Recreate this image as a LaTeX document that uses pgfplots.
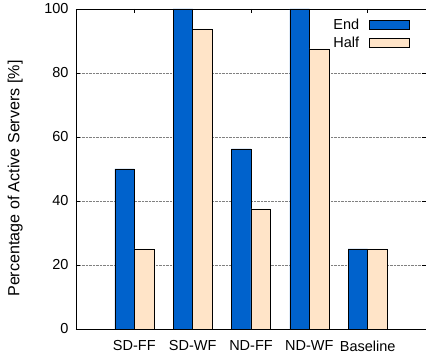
\documentclass[border=0pt]{standalone}
\usepackage{pgfplots}
\pgfplotsset{compat=1.18}
\usepackage{fontspec}
\setmainfont{Liberation Sans}
\definecolor{endblue}{RGB}{0,98,204}
\definecolor{halfpeach}{RGB}{255,228,200}
\begin{document}
\begin{tikzpicture}
\begin{axis}[
  scale only axis,
  width=350pt, height=320pt,
  xmin=0, xmax=6, ymin=0, ymax=100,
  ybar=0pt, bar width=19.5pt,
  xtick={1,2,3,4,5},
  xticklabels={SD-FF,SD-WF,ND-FF,ND-WF,Baseline},
  ytick={0,20,40,60,80,100},
  tick align=inside,
  major tick length=4pt,
  ymajorgrids,
  grid style={densely dotted, gray, line width=0.6pt},
  axis line style={line width=0.9pt},
  tick style={black, line width=0.6pt},
  /pgf/number format/assume math mode=true,
  tick label style={font=\fontsize{14.5}{16}\selectfont},
  yticklabel style={xshift=-4pt},
  xticklabel style={yshift=-8pt},
  ylabel={Percentage of Active Servers [\%]},
  every axis y label/.style={at={(axis description cs:-0.174,0.47)}, rotate=90, anchor=center,
    font=\fontsize{16.1}{18}\selectfont},
  legend style={at={(rel axis cs:1,1)}, anchor=north east, xshift=-13pt, yshift=-6pt,
    draw=none, fill=none, font=\fontsize{14.5}{16}\selectfont, row sep=2pt,
    legend cell align=left,
    /tikz/every odd column/.append style={column sep=8pt}},
  legend plot pos=right,
  legend image code/.code={\draw[#1, draw=black] (0pt,-4.5pt) rectangle (40pt,4.5pt);},
  clip=false,
]
\addplot[fill=endblue, draw=black, line width=0.6pt] coordinates {(1,50) (2,100) (3,56.25) (4,100) (5,25)};
\addplot[fill=halfpeach, draw=black, line width=0.6pt] coordinates {(1,25) (2,93.75) (3,37.5) (4,87.5) (5,25)};
\legend{End,Half}
\end{axis}
\pgfresetboundingbox
\useasboundingbox ([shift={(-76pt,-32pt)}]current axis.south west) rectangle ([shift={(0pt,9pt)}]current axis.north east);
\end{tikzpicture}
\end{document}
